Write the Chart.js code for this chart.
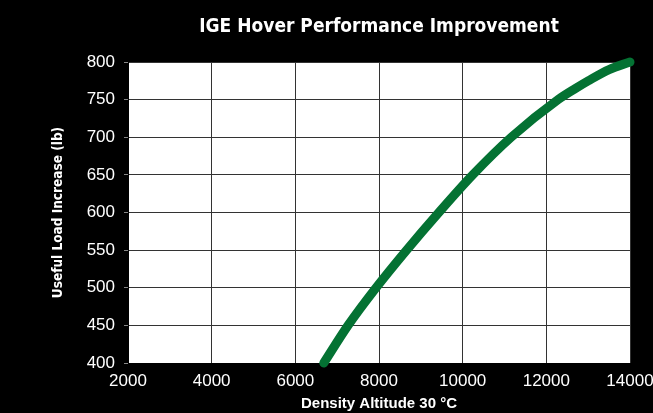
<!DOCTYPE html>
<html>

<head>
    <title>IGE Hover Performance Improvement</title>
    <script src="https://cdn.jsdelivr.net/npm/chart.js"></script>
    <style>
        html, body {
            margin: 0;
            padding: 0;
            background: #000;
        }

        #chart-wrap {
            width: 653px;
            height: 413px;
        }
    </style>
</head>

<body>
    <div id="chart-wrap">
        <canvas id="chart-hover"></canvas>
    </div>

    <script>
        // Values
        var densityAltitude = [6680, 7260, 7930, 8660, 9430, 10240, 11160, 12280, 12700, 13000, 13500, 14000];
        var loadIncrease = [400, 450, 500, 550, 600, 650, 700, 750, 765, 775, 790, 800];
        var xTicks = [2000, 4000, 6000, 8000, 10000, 12000, 14000];
        var yTicks = [400, 450, 500, 550, 600, 650, 700, 750, 800];
        var chartTitle = 'IGE Hover Performance Improvement';

        var points = densityAltitude.map(function(x, i) {
            return { x: x, y: loadIncrease[i] };
        });

        var narrowFamily = '"DejaVu Sans", sans-serif';

        // White plot area on the black page, title centred over the plot
        var plotBackground = {
            id: 'plotBackground',
            beforeDraw: function(chart) {
                var a = chart.chartArea;
                var ctx = chart.ctx;
                ctx.save();
                ctx.fillStyle = '#000';
                ctx.fillRect(0, 0, chart.width, chart.height);
                ctx.fillStyle = '#fff';
                ctx.fillRect(a.left, a.top, a.right - a.left, a.bottom - a.top);
                ctx.restore();
            },
            afterDraw: function(chart) {
                var a = chart.chartArea;
                var ctx = chart.ctx;
                ctx.save();
                ctx.fillStyle = '#fff';
                ctx.font = 'bold condensed 19px ' + narrowFamily;
                ctx.textAlign = 'center';
                ctx.textBaseline = 'middle';
                ctx.fillText(chartTitle, (a.left + a.right) / 2, 27);
                ctx.restore();
            }
        };

        var ctx = document.getElementById('chart-hover').getContext('2d');
        var chartHover = new Chart(ctx, {
            type: 'line',
            data: {
                datasets: [{
                    data: points,
                    borderColor: '#047233',
                    borderWidth: 9,
                    borderCapStyle: 'round',
                    borderJoinStyle: 'round',
                    pointRadius: 0,
                    cubicInterpolationMode: 'monotone',
                    clip: false,
                    fill: false
                }]
            },
            options: {
                responsive: true,
                maintainAspectRatio: false,
                animation: false,
                layout: {
                    padding: { left: 0, right: 23, top: 62, bottom: 0 }
                },
                plugins: {
                    legend: { display: false },
                    tooltip: { enabled: false },
                    title: { display: false }
                },
                scales: {
                    x: {
                        type: 'linear',
                        min: 2000,
                        max: 14000,
                        afterBuildTicks: function(scale) {
                            scale.ticks = xTicks.map(function(v) { return { value: v }; });
                        },
                        afterFit: function(scale) {
                            scale.height = 50;
                            scale.paddingLeft = 0;
                            scale.paddingRight = 0;
                        },
                        grid: { color: '#333', lineWidth: 1, drawTicks: false },
                        border: { color: '#000', width: 1 },
                        ticks: {
                            color: '#fff',
                            padding: 8,
                            maxRotation: 0,
                            font: { family: '"Liberation Sans", Arial, sans-serif', size: 17 },
                            callback: function(v) { return v; }
                        },
                        title: {
                            display: true,
                            text: 'Density Altitude 30 °C',
                            color: '#fff',
                            font: { family: '"Liberation Sans", Arial, sans-serif', size: 15, weight: 'bold' },
                            padding: { top: 1, bottom: 0 }
                        }
                    },
                    y: {
                        min: 400,
                        max: 800,
                        afterBuildTicks: function(scale) {
                            scale.ticks = yTicks.map(function(v) { return { value: v }; });
                        },
                        afterFit: function(scale) {
                            scale.width = 128;
                            scale.paddingTop = 0;
                            scale.paddingBottom = 0;
                        },
                        grid: { color: '#333', lineWidth: 1, tickLength: 4, tickColor: '#888' },
                        border: { color: '#000', width: 1 },
                        ticks: {
                            color: '#fff',
                            padding: 9,
                            font: { family: '"Liberation Sans", Arial, sans-serif', size: 17 }
                        },
                        title: {
                            display: true,
                            text: 'Useful Load Increase (lb)',
                            color: '#fff',
                            font: { family: narrowFamily, size: 13.5, weight: 'bold condensed' },
                            padding: { top: 50, bottom: 0 }
                        }
                    }
                }
            },
            plugins: [plotBackground]
        });
    </script>
</body>

</html>
